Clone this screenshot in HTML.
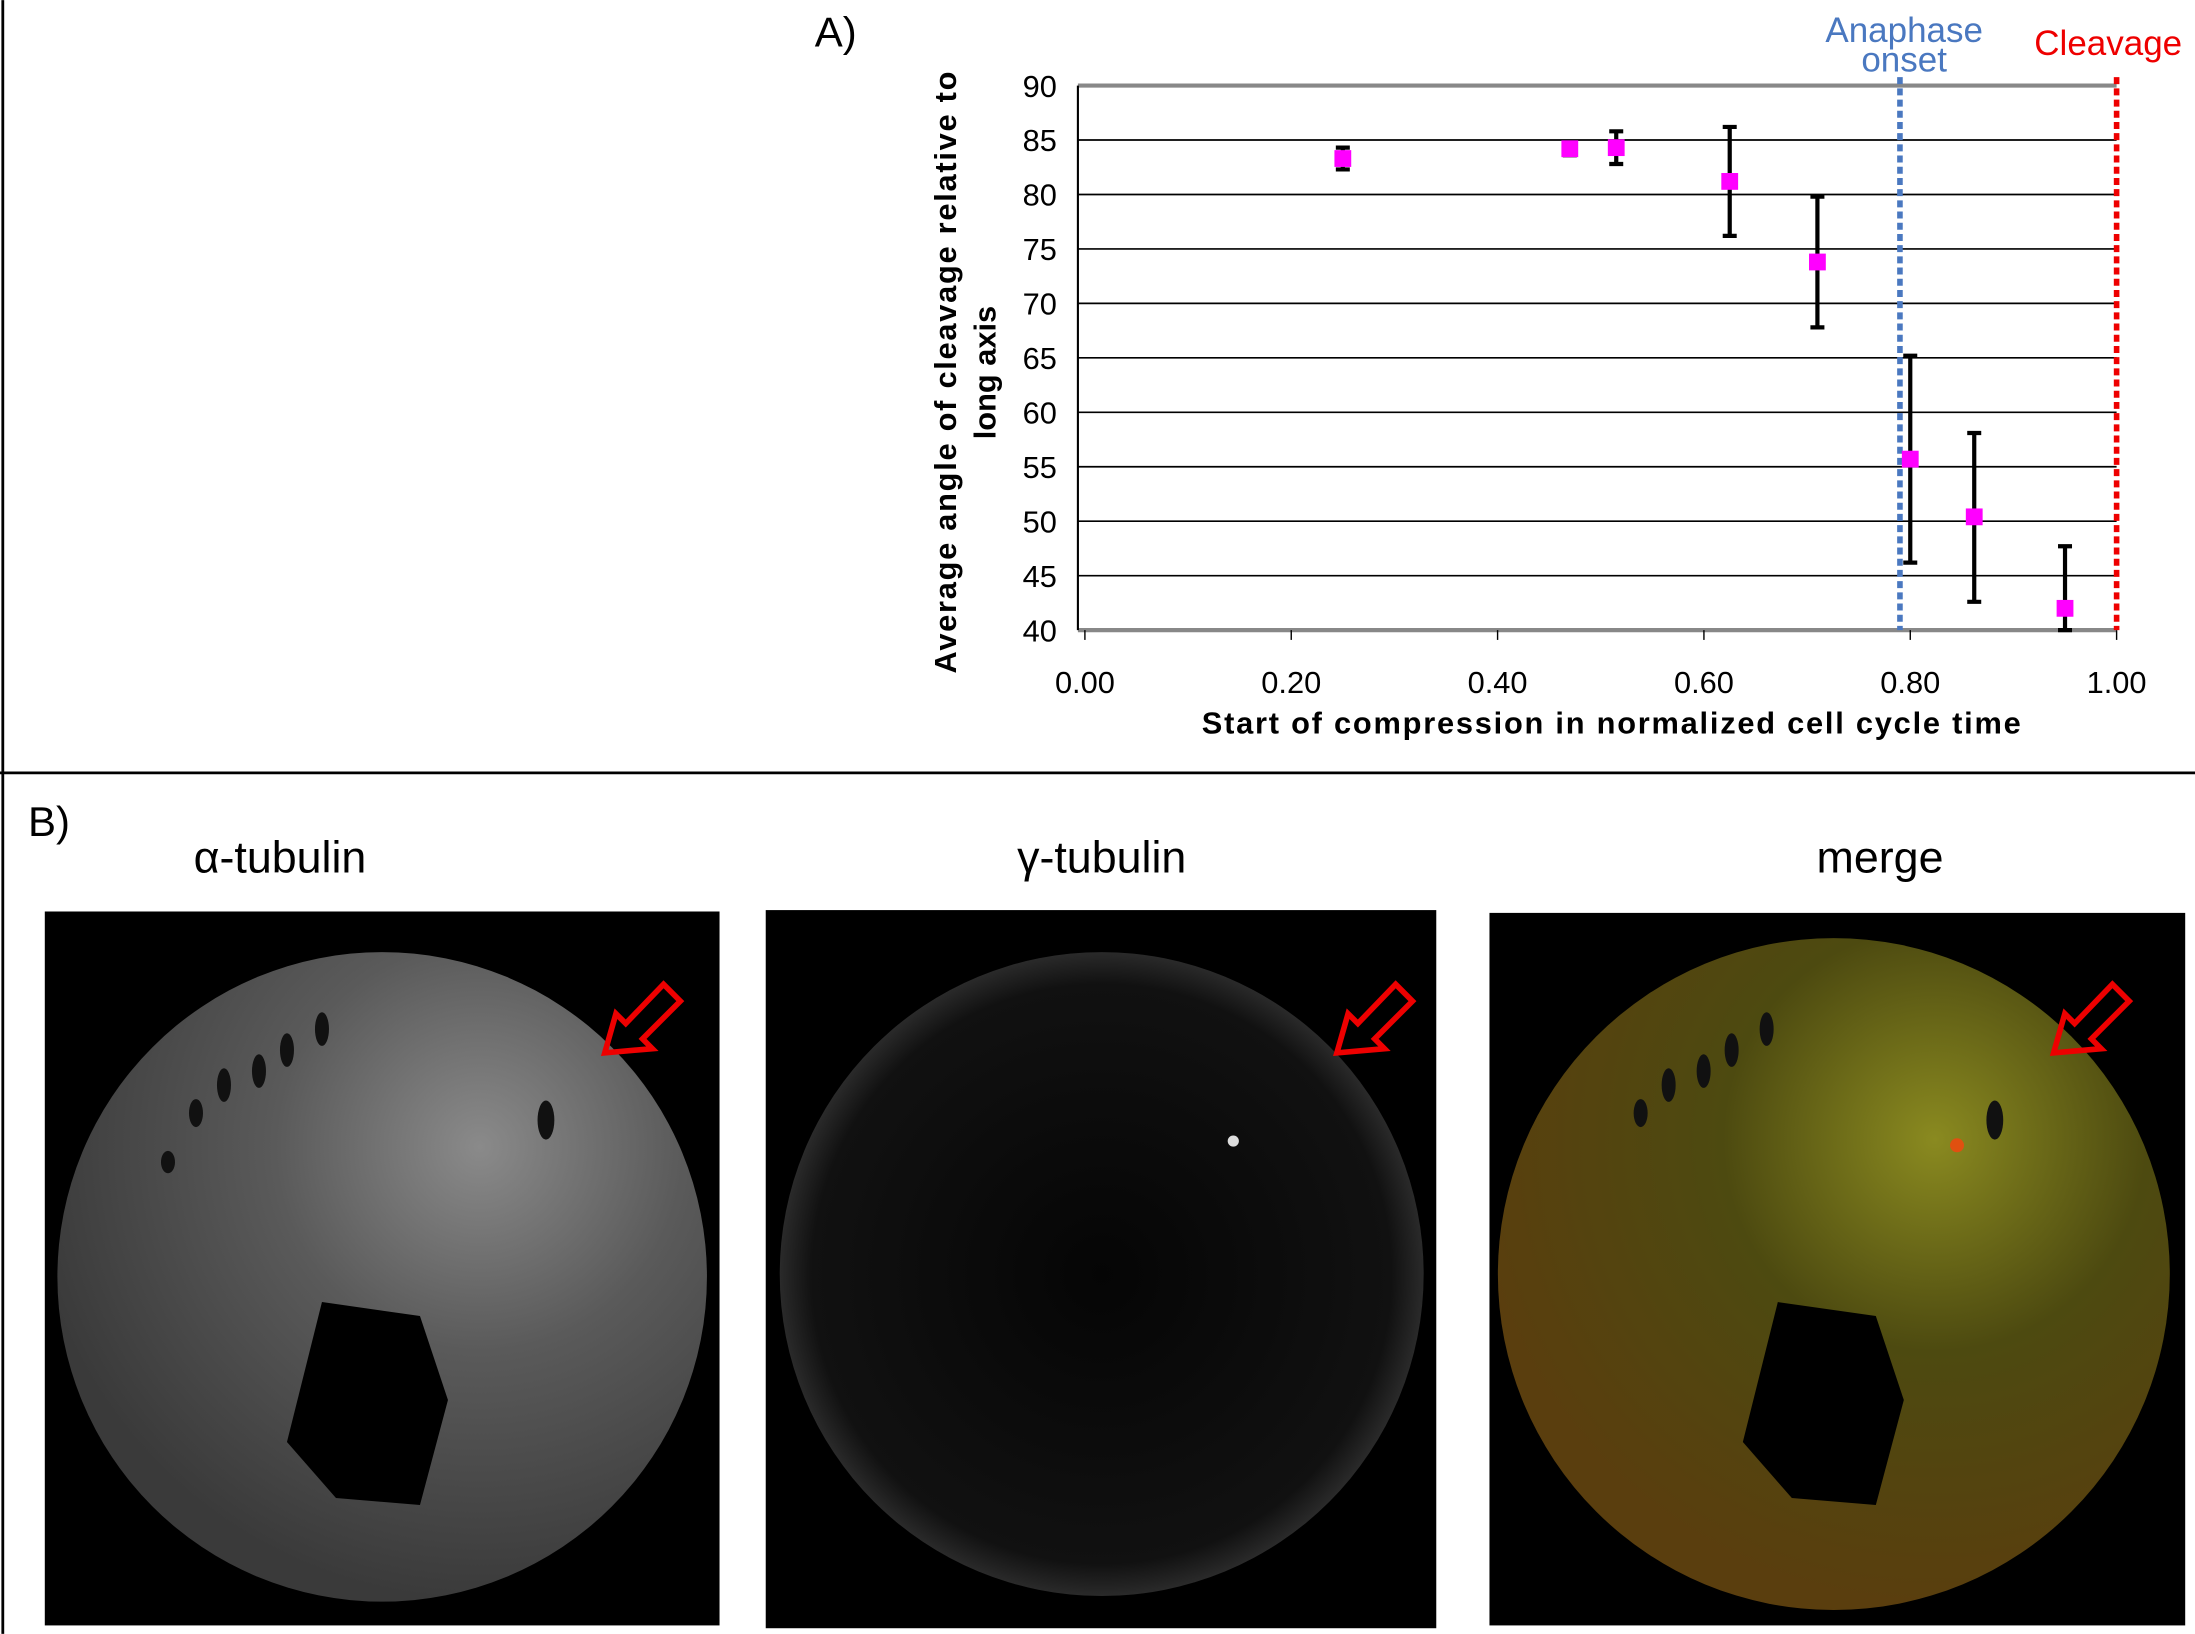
<!DOCTYPE html>
<html><head><meta charset="utf-8"><style>
html,body{margin:0;padding:0;background:#fff;}
svg{display:block;}
text{font-family:"Liberation Sans",sans-serif;}
</style></head><body>
<svg id="fig" width="2195" height="1634" viewBox="0 0 1568 1167" xmlns="http://www.w3.org/2000/svg">
<defs>
<radialGradient id="gA" cx="0.65" cy="0.3" r="0.7"><stop offset="0" stop-color="#8a8a8a"/><stop offset="0.45" stop-color="#5a5a5a"/><stop offset="1" stop-color="#3a3a3a"/></radialGradient>
<radialGradient id="gG" cx="0.5" cy="0.5" r="0.5"><stop offset="0" stop-color="#050505"/><stop offset="0.9" stop-color="#111"/><stop offset="1" stop-color="#2a2a2a"/></radialGradient>
<radialGradient id="gM" cx="0.65" cy="0.3" r="0.7"><stop offset="0" stop-color="#8a8a20"/><stop offset="0.45" stop-color="#4d4a10"/><stop offset="1" stop-color="#5a3e0e"/></radialGradient>
</defs>
<rect width="1568" height="1167" fill="#fff"/>
<line x1="2" y1="0" x2="2" y2="1167" stroke="#000" stroke-width="2"/>
<line x1="0" y1="552" x2="1568" y2="552" stroke="#000" stroke-width="2"/>
<text x="582" y="33" font-size="30">A)</text>
<text x="20" y="597" font-size="30">B)</text>
<g id="chart"></g>
<g>
<text x="200" y="623" font-size="32" text-anchor="middle">α-tubulin</text>
<text x="787" y="623" font-size="32" text-anchor="middle">γ-tubulin</text>
<text x="1343" y="623" font-size="32" text-anchor="middle">merge</text>
<rect x="32" y="651" width="482" height="510" fill="#000"/>
<circle cx="273" cy="912" r="232" fill="url(#gA)"/>
<path d="M230 930 L300 940 L320 1000 L300 1075 L240 1070 L205 1030 Z" fill="#000"/>
<g fill="#111"><ellipse cx="230" cy="735" rx="5" ry="12"/><ellipse cx="205" cy="750" rx="5" ry="12"/><ellipse cx="185" cy="765" rx="5" ry="12"/><ellipse cx="160" cy="775" rx="5" ry="12"/><ellipse cx="140" cy="795" rx="5" ry="10"/><ellipse cx="120" cy="830" rx="5" ry="8"/><ellipse cx="390" cy="800" rx="6" ry="14"/></g>
<rect x="547" y="650" width="479" height="513" fill="#000"/>
<circle cx="787" cy="910" r="230" fill="url(#gG)"/>
<circle cx="881" cy="815" r="4" fill="#ddd"/>
<rect x="1064" y="652" width="497" height="509" fill="#000"/>
<circle cx="1310" cy="910" r="240" fill="url(#gM)"/>
<path d="M1270 930 L1340 940 L1360 1000 L1340 1075 L1280 1070 L1245 1030 Z" fill="#000"/>
<g fill="#111"><ellipse cx="1262" cy="735" rx="5" ry="12"/><ellipse cx="1237" cy="750" rx="5" ry="12"/><ellipse cx="1217" cy="765" rx="5" ry="12"/><ellipse cx="1192" cy="775" rx="5" ry="12"/><ellipse cx="1172" cy="795" rx="5" ry="10"/><ellipse cx="1425" cy="800" rx="6" ry="14"/></g>
<circle cx="1398" cy="818" r="5" fill="#e05010"/>
<g fill="none" stroke="#e00" stroke-width="4">
<path d="M432 752 L440 724 L447 731 L474 703 L486 715 L459 742 L466 749 Z"/>
<path d="M955 752 L963 724 L970 731 L997 703 L1009 715 L982 742 L989 749 Z"/>
<path d="M1467 752 L1475 724 L1482 731 L1509 703 L1521 715 L1494 742 L1501 749 Z"/>
</g>
</g>
</svg>
<script>
const xValues=[0.25,0.47,0.515,0.625,0.71,0.80,0.862,0.95];
const yValues=[83.3,84.2,84.3,81.2,73.8,55.7,50.4,42.0];
const yHigh=[84.3,84.8,85.8,86.2,79.8,65.2,58.1,47.7];
const yLow=[82.3,83.6,82.8,76.2,67.8,46.2,42.6,40.0];
const yTicks=[40,45,50,55,60,65,70,75,80,85,90];
const xTicks=[0,0.2,0.4,0.6,0.8,1.0];
const xTickLabels=["0.00","0.20","0.40","0.60","0.80","1.00"];
const anaphaseX=0.79, cleavageX=1.0;
const NS="http://www.w3.org/2000/svg";
const g=document.getElementById('chart');
const X=v=>775+v*737, Y=v=>450-(v-40)*389/50;
function mk(t,a,p){const e=document.createElementNS(NS,t);for(const k in a)e.setAttribute(k,a[k]);(p||g).appendChild(e);return e;}
yTicks.forEach(t=>{
 const l=mk('line',{x1:770,x2:1512,y1:Y(t),y2:Y(t),stroke:t===90||t===40?'#888':'#000','stroke-width':t===90||t===40?3:1.2});
 
 
 const tx=mk('text',{x:755,y:Y(t)+8,'font-size':22,'text-anchor':'end'});tx.textContent=t;
 
 
});
const ya=mk('line',{x1:770,x2:770,y1:Y(90),y2:Y(40),stroke:'#000','stroke-width':1.5});


xTicks.forEach((t,i)=>{
 mk('line',{x1:X(t),x2:X(t),y1:450,y2:457,stroke:'#000','stroke-width':1});
 const tx=mk('text',{x:X(t),y:495,'font-size':22,'text-anchor':'middle'});tx.textContent=xTickLabels[i];
 
 
});
const xt=mk('text',{x:1151,y:524,'font-size':22,'font-weight':'bold','text-anchor':'middle','textLength':585});xt.textContent='Start of compression in normalized cell cycle time';


const yt=mk('text',{transform:'translate(683,266) rotate(-90)','font-size':22,'font-weight':'bold','text-anchor':'middle'});


const t1=mk('tspan',{x:0,dy:0,textLength:430},yt);t1.textContent='Average angle of cleavage relative to';
const t2=mk('tspan',{x:0,dy:28},yt);t2.textContent='long axis';
const al=mk('line',{x1:X(anaphaseX),x2:X(anaphaseX),y1:55,y2:450,stroke:'#4a78c0','stroke-width':4,'stroke-dasharray':'5,3'});


const cl=mk('line',{x1:X(cleavageX),x2:X(cleavageX),y1:55,y2:450,stroke:'#e00','stroke-width':4,'stroke-dasharray':'5,3'});


const at=mk('text',{x:X(anaphaseX)+3,y:30,'font-size':25,fill:'#4a78c0','text-anchor':'middle'});


const a1=mk('tspan',{x:X(anaphaseX)+3,dy:0},at);a1.textContent='Anaphase';
const a2=mk('tspan',{x:X(anaphaseX)+3,dy:21},at);a2.textContent='onset';
const ct=mk('text',{x:1506,y:39,'font-size':25,fill:'#e00','text-anchor':'middle'});ct.textContent='Cleavage';


xValues.forEach((xv,i)=>{
 const eb=mk('path',{d:`M${X(xv)-5} ${Y(yHigh[i])}H${X(xv)+5}M${X(xv)} ${Y(yHigh[i])}V${Y(yLow[i])}M${X(xv)-5} ${Y(yLow[i])}H${X(xv)+5}`,stroke:'#000','stroke-width':3,fill:'none'});
 
 
 const p=mk('rect',{x:X(xv)-6,y:Y(yValues[i])-6,width:12,height:12,fill:'#ff00ff'});
 
 
});
</script>
</body></html>
